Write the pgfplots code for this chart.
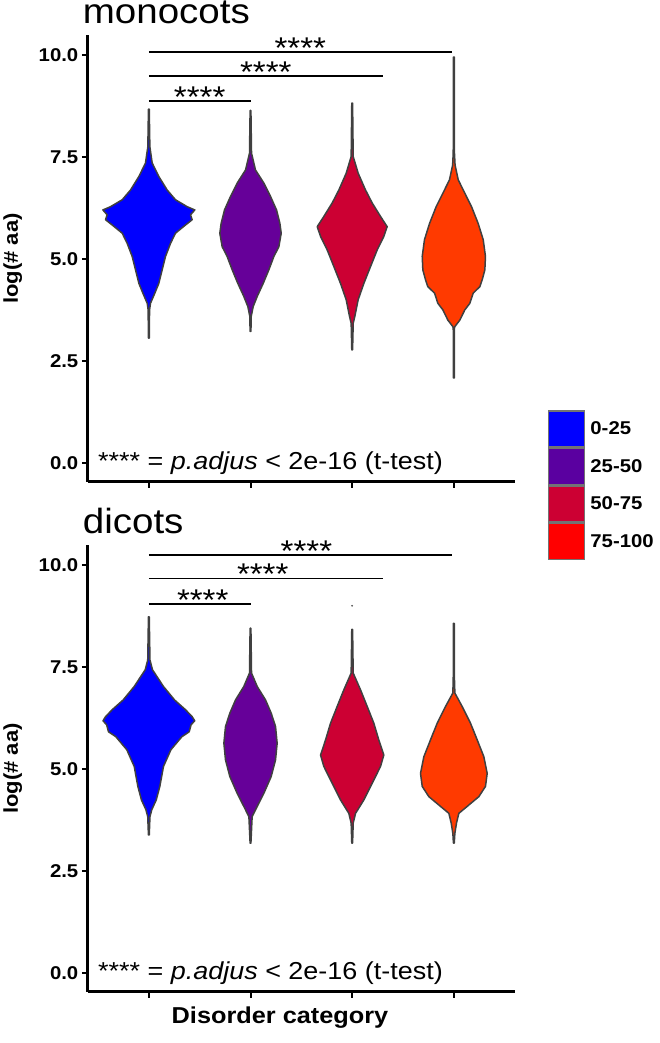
\documentclass[border=0pt]{standalone}
\usepackage{fontspec}
\setmainfont[FakeStretch=1.1]{Liberation Sans}
\usepackage{pgfplots}
\pgfplotsset{compat=1.18}
\usepackage{pgfplotstable}

\definecolor{c1}{HTML}{0000FF}
\definecolor{c2}{HTML}{660099}
\definecolor{c3}{HTML}{CC0033}
\definecolor{c4}{HTML}{FF3A00}
\definecolor{l2}{HTML}{5A00A0}
\definecolor{l4}{HTML}{FF0000}
\definecolor{vline}{HTML}{404040}

% violin outlines: v = log(# aa), w = half width (category units)
\pgfplotstableread{
v w
3.06 0.004
3.75 0.007
3.91 0.016
4.16 0.059
4.40 0.098
4.73 0.131
5.06 0.164
5.38 0.213
5.63 0.262
5.83 0.360
5.96 0.426
6.08 0.410
6.20 0.452
6.28 0.377
6.45 0.262
6.69 0.180
7.02 0.098
7.35 0.033
7.75 0.010
8.67 0.004
}\monoA
\pgfplotstableread{
v w
3.22 0.004
3.59 0.007
3.83 0.026
4.08 0.066
4.40 0.125
4.73 0.180
5.06 0.230
5.30 0.279
5.63 0.302
5.87 0.289
6.20 0.256
6.53 0.197
6.86 0.131
7.18 0.049
7.59 0.010
8.64 0.004
}\monoB
\pgfplotstableread{
v w
2.77 0.004
3.42 0.010
3.59 0.026
4.00 0.059
4.40 0.115
4.81 0.180
5.22 0.246
5.55 0.311
5.79 0.344
6.04 0.279
6.37 0.197
6.69 0.131
7.10 0.059
7.51 0.010
8.82 0.004
}\monoC
\pgfplotstableread{
v w
2.08 0.004
3.30 0.006
3.34 0.010
3.50 0.059
3.75 0.108
3.91 0.157
4.16 0.190
4.32 0.256
4.49 0.279
4.73 0.305
5.06 0.311
5.47 0.289
5.87 0.239
6.28 0.174
6.69 0.092
6.94 0.043
7.30 0.012
7.60 0.006
9.95 0.004
}\monoD
\pgfplotstableread{
v w
3.38 0.004
3.83 0.011
4.00 0.029
4.24 0.073
4.57 0.108
5.06 0.144
5.47 0.217
5.79 0.325
5.91 0.397
6.08 0.415
6.18 0.451
6.28 0.426
6.45 0.361
6.69 0.253
7.02 0.144
7.43 0.036
7.67 0.011
8.73 0.004
}\diA
\pgfplotstableread{
v w
3.18 0.004
3.83 0.016
4.08 0.066
4.40 0.131
4.81 0.203
5.22 0.246
5.63 0.262
6.04 0.246
6.37 0.203
6.69 0.148
7.02 0.066
7.35 0.010
8.45 0.004
}\diB
\pgfplotstableread{
v w
3.18 0.004
3.67 0.010
3.91 0.033
4.24 0.115
4.65 0.197
5.06 0.279
5.34 0.311
5.71 0.262
6.12 0.213
6.53 0.148
6.94 0.082
7.35 0.010
8.42 0.004
}\diC
\pgfplotstableread{
v w
3.18 0.004
3.42 0.010
3.67 0.026
3.91 0.049
4.08 0.131
4.32 0.246
4.57 0.311
4.89 0.328
5.30 0.295
5.71 0.230
6.12 0.164
6.53 0.082
6.86 0.010
7.20 0.006
8.57 0.004
}\diD

% make a closed outline: right side bottom->top, then left side top->bottom (column s)
\newcommand{\mkviolin}[1]{%
  \pgfplotstablesort[sort key=v, sort cmp=float >]{\tmpside}{#1}%
  \pgfplotstablecreatecol[expr={-\thisrow{w}}]{s}{\tmpside}%
  \pgfplotstablecreatecol[expr={\thisrow{w}}]{s}{#1}%
  \pgfplotstablevertcat{#1}{\tmpside}%
}
\mkviolin\monoA \mkviolin\monoB \mkviolin\monoC \mkviolin\monoD
\mkviolin\diA \mkviolin\diB \mkviolin\diC \mkviolin\diD

% #1 centre, #2 table, #3 colour
\newcommand{\violin}[3]{%
  \addplot[fill=#3, draw=vline, line width=1.5pt, line join=round, forget plot]
    table[x expr=#1+\thisrow{s}, y=v] {#2} -- cycle;
}
% #1 right end, #2 height, #3 star position
\newcommand{\sigbar}[3]{%
  \addplot[black, line width=1.5pt, forget plot] coordinates {(1,#2) (#1,#2)};
  \node[anchor=base, inner sep=0pt, yshift=-6.5pt, font=\fontsize{30}{30}\selectfont] at (axis cs:#3,#2) {****};
}

\pgfplotsset{panel/.style={
  width=427pt, height=447pt, scale only axis, clip=false,
  xmin=0.4, xmax=4.6, ymin=-0.47, ymax=10.49,
  axis x line*=bottom, axis y line*=left,
  axis line style={line width=3pt, -},
  xtick={1,2,3,4}, xticklabels={},
  ytick={0,2.5,5,7.5,10}, yticklabels={0.0,2.5,5.0,7.5,10.0},
  tick align=outside, major tick length=6pt,
  tick style={line width=2pt, black},
  tick label style={font=\fontsize{18.5}{18.5}\selectfont\bfseries},
  ylabel={log(\# aa)},
  ylabel style={at={(axis description cs:-0.176,0.5)}, anchor=center,
    font=\fontsize{20}{20}\selectfont\bfseries},
  title style={at={(axis description cs:-0.012,1.012)}, anchor=base west,
    inner sep=0pt, font=\fontsize{35}{35}\selectfont},
}}

\begin{document}
\begin{tikzpicture}

\begin{axis}[panel, at={(85pt,561pt)}, anchor=south west,
  title={monocots},
  legend image code/.code={\draw[#1, draw=black!55, line width=1.5pt] (0pt,-18pt) rectangle (36pt,18pt);},
  legend style={at={(axis description cs:1.077,0.161)}, anchor=north west,
    draw=none, fill=none, inner sep=0pt, row sep=0pt, column sep=5pt,
    font=\fontsize{18.5}{18.5}\selectfont\bfseries, nodes={inner sep=0pt}},
  legend cell align=left]
\addlegendimage{fill=c1}\addlegendentry{0-25}
\addlegendimage{fill=l2}\addlegendentry{25-50}
\addlegendimage{fill=c3}\addlegendentry{50-75}
\addlegendimage{fill=l4}\addlegendentry{75-100}
\violin{1}{\monoA}{c1}
\violin{2}{\monoB}{c2}
\violin{3}{\monoC}{c3}
\violin{4}{\monoD}{c4}
\sigbar{2}{8.87}{1.5}
\sigbar{3.30}{9.49}{2.15}
\sigbar{3.98}{10.07}{2.49}
\node[anchor=west, inner sep=0pt, font=\fontsize{24.5}{25}\selectfont] at (axis cs:0.5,0) {**** = \textit{p.adjus} < 2e-16 (t-test)};
\end{axis}

\begin{axis}[panel, at={(85pt,51pt)}, anchor=south west,
  title={dicots},
  xlabel={Disorder category},
  xlabel style={at={(axis description cs:0.45,-0.058)}, anchor=center,
    font=\fontsize{23}{23}\selectfont\bfseries}]
\violin{1}{\diA}{c1}
\violin{2}{\diB}{c2}
\violin{3}{\diC}{c3}
\violin{4}{\diD}{c4}
\addplot[only marks, mark=*, mark size=0.7pt, black!60, forget plot] coordinates {(3,9.0)};
\sigbar{2}{9.04}{1.53}
\sigbar{3.30}{9.67}{2.12}
\sigbar{3.98}{10.25}{2.55}
\node[anchor=west, inner sep=0pt, font=\fontsize{24.5}{25}\selectfont] at (axis cs:0.5,0) {**** = \textit{p.adjus} < 2e-16 (t-test)};
\end{axis}

\path (0,0) rectangle (657pt,1043pt);
\end{tikzpicture}
\end{document}
